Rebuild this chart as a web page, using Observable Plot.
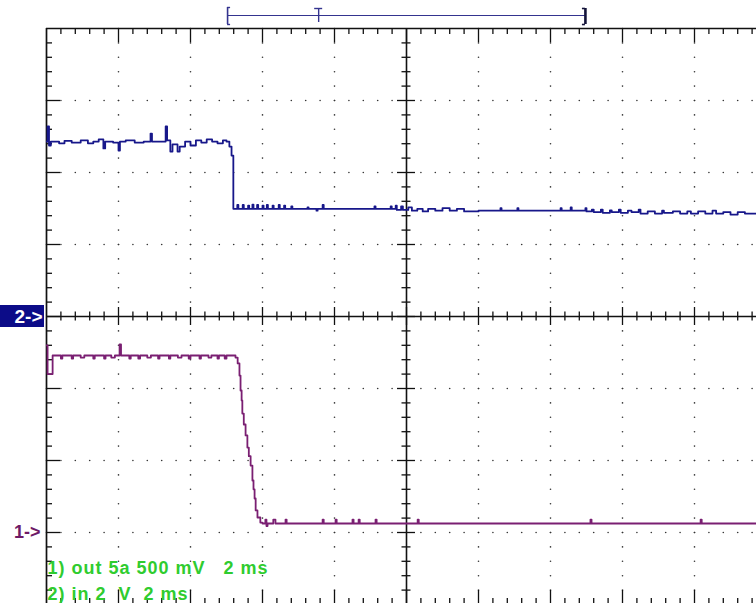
<!DOCTYPE html>
<html>
<head>
<meta charset="utf-8">
<script src="https://cdn.jsdelivr.net/npm/d3@7"></script>
<script src="https://cdn.jsdelivr.net/npm/@observablehq/plot@0.6"></script>
<style>
  html, body { margin: 0; padding: 0; background: #fff; }
  #scope svg { display: block; }
  #scope g[aria-description="scale readout"] text { letter-spacing: 1px; }
</style>
</head>
<body>
<div id="scope"></div>
<script>
// ---- Scope settings ----
const msPerDiv = 2;           // timebase
const ch1VoltsPerDiv = 0.5;   // 1) out 5a
const ch2VoltsPerDiv = 2;     // 2) in
const ch1Ground = -3;         // ground marker, divisions from screen centre
const ch2Ground = 0;

// Record window indicator above the graticule (ms from left edge)
const windowStart = 5.03;
const triggerTime = 7.56;
const windowEnd = 14.97;

// Text
const channelTags = ["1->", "2->"];
const scaleLabels = ["1) out 5a 500 mV   2 ms", "2) in 2  V  2 ms"];

// ---- Channel 2: input (V), time in ms ----
const ch2Time = [
  0.00, 0.03, 0.07, 0.12, 0.35, 0.50, 0.70, 0.95, 1.15, 1.30, 1.45, 1.58, 1.63, 1.85, 2.00, 2.04,
  2.20, 2.45, 2.70, 2.89, 2.93, 3.31, 3.35, 3.44, 3.50, 3.64, 3.70, 3.85, 4.00, 4.15, 4.30, 4.45,
  4.60, 4.75, 4.90, 5.00, 5.08, 5.14, 5.19,
  5.30, 5.33, 5.45, 5.48, 5.60, 5.63, 5.72, 5.75, 5.85, 5.88, 6.00, 6.03, 6.12, 6.15, 6.28, 6.31,
  6.45, 6.48, 6.60, 6.63, 6.80, 6.83, 7.25, 7.28, 7.50, 7.53, 7.67, 7.70, 9.11, 9.14, 9.56, 9.59,
  9.70, 9.73, 9.85, 9.90, 10.05, 10.15, 10.30, 10.45, 10.60, 10.80, 11.00, 11.20, 11.40, 11.60,
  12.00, 12.61, 12.64, 13.08, 13.11, 14.28, 14.31, 14.56, 14.59, 14.97, 15.00,
  15.15, 15.20, 15.40, 15.45, 15.65, 15.70, 15.90, 15.95, 16.15, 16.25, 16.45, 16.50, 16.70, 16.90,
  17.10, 17.15, 17.40, 17.60, 17.80, 17.90, 18.10, 18.30, 18.50, 18.60, 18.80, 19.00, 19.20, 19.40, 19.72
];
const ch2Volts = [
  4.86, 5.28, 4.75, 4.86, 4.81, 4.88, 4.83, 4.89, 4.81, 4.86, 4.92, 4.67, 4.86, 4.83, 4.61, 4.86,
  4.89, 4.83, 4.86, 5.08, 4.86, 5.28, 4.89, 4.58, 4.78, 4.58, 4.72, 4.86, 4.75, 4.89, 4.83, 4.92,
  4.86, 4.81, 4.89, 4.86, 4.72, 4.47, 2.99,
  3.10, 2.99, 3.10, 2.99, 3.08, 2.99, 3.11, 2.99, 3.10, 2.99, 3.08, 2.99, 3.10, 2.99, 3.08, 2.99,
  3.10, 2.99, 3.08, 2.99, 3.06, 2.99, 3.03, 2.99, 2.94, 2.99, 3.10, 2.99, 3.06, 2.99, 3.06, 2.99,
  3.08, 2.96, 3.06, 2.96, 3.03, 2.94, 2.99, 2.92, 2.99, 2.94, 3.01, 2.94, 2.99, 2.92,
  2.94, 3.01, 2.94, 3.01, 2.94, 3.01, 2.94, 3.03, 2.94, 3.01, 2.92,
  2.97, 2.90, 2.97, 2.88, 2.95, 2.90, 2.97, 2.88, 2.94, 2.90, 2.97, 2.86, 2.92, 2.86,
  2.94, 2.88, 2.92, 2.86, 2.92, 2.86, 2.92, 2.86, 2.94, 2.86, 2.90, 2.83, 2.90, 2.86, 2.86
];

// ---- Channel 1: output 5a (V), time in ms ----
const ch1Time = [
  0.00, 0.03, 0.17, 0.40, 0.44, 0.70, 0.74, 0.95, 1.05, 1.30, 1.34, 1.60, 1.64, 1.80, 1.90, 2.03,
  2.07, 2.30, 2.34, 2.55, 2.60, 2.80, 2.90, 3.10, 3.14, 3.40, 3.44, 3.65, 3.75, 3.95, 4.00, 4.25,
  4.29, 4.50, 4.58, 4.75, 4.79, 4.95, 5.00,
  5.25, 5.31, 5.36, 5.39, 5.42, 5.44, 5.48, 5.53, 5.58, 5.62, 5.67, 5.72, 5.75, 5.78, 5.81, 5.86,
  5.94, 6.00,
  6.08, 6.11, 6.14, 6.30, 6.36, 6.64, 6.67, 7.67, 7.70, 8.03, 8.06, 8.50, 8.53, 8.67, 8.70, 9.14,
  9.17, 10.31, 10.34, 15.11, 15.14, 18.17, 18.20, 19.72
];
const ch1Volts = [
  1.30, 1.10, 1.229, 1.208, 1.229, 1.208, 1.229, 1.215, 1.229, 1.208, 1.229, 1.208, 1.229, 1.215, 1.229, 1.306,
  1.229, 1.208, 1.229, 1.208, 1.229, 1.215, 1.229, 1.208, 1.229, 1.208, 1.229, 1.215, 1.229, 1.208, 1.229, 1.208,
  1.229, 1.215, 1.229, 1.208, 1.229, 1.208, 1.229,
  1.215, 1.174, 1.09, 0.986, 0.917, 0.826, 0.75, 0.674, 0.59, 0.53, 0.465, 0.361, 0.30, 0.236, 0.153, 0.104,
  0.069, 0.0625,
  0.09, 0.045, 0.0625, 0.09, 0.0625, 0.09, 0.0625, 0.09, 0.0625, 0.09, 0.0625, 0.09, 0.0625, 0.09, 0.0625, 0.09,
  0.0625, 0.09, 0.0625, 0.09, 0.0625, 0.09, 0.0625, 0.0625
];

// ---- Build screen positions (divisions) from volts ----
const ch2Trace = ch2Time.map((t, i) => ({t, d: ch2Ground + ch2Volts[i] / ch2VoltsPerDiv}));
const ch1Trace = ch1Time.map((t, i) => ({t, d: ch1Ground + ch1Volts[i] / ch1VoltsPerDiv}));

// ---- Graticule geometry ----
const svgW = 756, svgH = 603;
const padLeft = 46, padTop = 28;
const pxPerDiv = 72;
const xMax = (svgW - padLeft) / pxPerDiv * msPerDiv;   // visible span, ms
const yMin = 4 - (svgH - padTop) / pxPerDiv;           // visible bottom, divisions
const px = 1 / pxPerDiv;                               // one pixel in divisions
const pxMs = msPerDiv / pxPerDiv;                      // one pixel in ms
const eps = 1e-6;
const isMajorT = t => Math.abs(t / msPerDiv - Math.round(t / msPerDiv)) < eps;
const isMajorD = d => Math.abs(d - Math.round(d)) < eps;

const minorT = d3.range(1, 50).map(i => i * msPerDiv / 5).filter(t => t < xMax);
const minorD = d3.range(-19, 20).map(i => i / 5);

// dotted division lines
const dotRows = [-3, -2, -1, 1, 2, 3];
const dotCols = [1, 2, 3, 4, 6, 7, 8, 9].map(k => k * msPerDiv);
const dots = [
  ...dotRows.flatMap(d => [0, ...minorT].map(t => ({t, d}))),
  ...dotCols.flatMap(t => [-4, ...minorD, 4].map(d => ({t, d})))
];

const ink = "#111";
const tickLen = t => (isMajorT(t) ? 14 : 6);
const tickLenD = d => (isMajorD(d) ? 14 : 6);
const crossLen = v => (v ? 9 : 4.5);
const centreT = 5 * msPerDiv;

const fontFamily = "'Liberation Sans', Arial, Helvetica, sans-serif";

const chart = Plot.plot({
  width: svgW,
  height: svgH,
  marginLeft: padLeft,
  marginTop: padTop,
  marginRight: 0,
  marginBottom: 0,
  x: {domain: [0, xMax], axis: null},
  y: {domain: [yMin, 4], axis: null},
  style: {background: "#fff", fontFamily},
  marks: [
    // dotted grid
    Plot.dot(dots, {x: "t", y: "d", r: 0.8, fill: "#333", stroke: null}),

    // outer border (left and top visible)
    Plot.ruleX([0], {y1: yMin - 1, y2: 4, stroke: ink, strokeWidth: 1.7}),
    Plot.ruleY([4], {x1: 0, x2: xMax + 1, stroke: ink, strokeWidth: 1.7}),

    // border ticks
    Plot.ruleX(minorT, {x: t => t, y1: 4, y2: t => 4 - tickLen(t) * px, stroke: ink, strokeWidth: 1.3}),
    Plot.ruleX(minorT, {x: t => t, y1: -4, y2: t => -4 + tickLen(t) * px, stroke: ink, strokeWidth: 1.3}),
    Plot.ruleY(minorD, {y: d => d, x1: 0, x2: d => tickLenD(d) * pxMs, stroke: ink, strokeWidth: 1.3}),

    // centre cross with ticks
    Plot.ruleX([centreT], {y1: yMin - 1, y2: 4, stroke: ink, strokeWidth: 1.6}),
    Plot.ruleY([0], {x1: 0, x2: xMax + 1, stroke: ink, strokeWidth: 1.6}),
    Plot.ruleX(minorT, {x: t => t, y1: t => -crossLen(isMajorT(t)) * px, y2: t => crossLen(isMajorT(t)) * px, stroke: ink, strokeWidth: 1.3}),
    Plot.ruleY(minorD, {y: d => d, x1: d => centreT - crossLen(isMajorD(d)) * pxMs, x2: d => centreT + crossLen(isMajorD(d)) * pxMs, stroke: ink, strokeWidth: 1.3}),

    // record window indicator with trigger point
    Plot.ruleY([4 + 13 * px], {x1: windowStart, x2: windowEnd, stroke: "#34348f", strokeWidth: 1.2}),
    Plot.ruleX([windowStart], {y1: 4 + 4 * px, y2: 4 + 21 * px, stroke: "#34348f", strokeWidth: 1.6}),
    Plot.ruleY([4 + 4 * px, 4 + 21 * px], {x1: windowStart, x2: windowStart + 3 * pxMs, stroke: "#34348f", strokeWidth: 1.4}),
    Plot.ruleX([windowEnd], {y1: 4 + 4 * px, y2: 4 + 20 * px, stroke: "#14143a", strokeWidth: 2.6}),
    Plot.ruleY([4 + 4 * px, 4 + 20 * px], {x1: windowEnd - 3 * pxMs, x2: windowEnd, stroke: "#14143a", strokeWidth: 1.6}),
    Plot.ruleX([triggerTime], {y1: 4 + 6 * px, y2: 4 + 20 * px, stroke: "#34348f", strokeWidth: 1.4}),
    Plot.ruleY([4 + 20 * px], {x1: triggerTime - 4 * pxMs, x2: triggerTime + 4 * pxMs, stroke: "#34348f", strokeWidth: 1.4}),

    // traces
    Plot.line(ch2Trace, {x: "t", y: "d", curve: "step-after", stroke: "#17178a", strokeWidth: 1.8, clip: true}),
    Plot.line(ch1Trace, {x: "t", y: "d", curve: "step-after", stroke: "#7a1f72", strokeWidth: 1.8, clip: true}),

    // channel ground markers
    Plot.rect([{d: ch2Ground}], {x1: 0, x2: 0, y1: d => d.d - 11 * px, y2: d => d.d + 11 * px, insetLeft: -padLeft, insetRight: 2, fill: "#0c0c88"}),
    Plot.text([{d: ch2Ground, tag: channelTags[1]}], {x: 0, y: "d", text: "tag", textAnchor: "end", dx: -4, fill: "#fff", fontSize: 19, fontWeight: "bold"}),
    Plot.text([{d: ch1Ground, tag: channelTags[0]}], {x: 0, y: "d", text: "tag", textAnchor: "end", dx: -6, fill: "#6e1a66", fontSize: 18, fontWeight: "bold"}),

    // scale readout
    Plot.text([scaleLabels.join("\n")], {
      ariaDescription: "scale readout",
      frameAnchor: "bottom-left", lineAnchor: "bottom", lineHeight: 1.44,
      dx: 1, dy: -4, fill: "#2fcc2f", fontSize: 18, fontWeight: "bold"
    })
  ]
});

document.getElementById("scope").appendChild(chart);
</script>
</body>
</html>
